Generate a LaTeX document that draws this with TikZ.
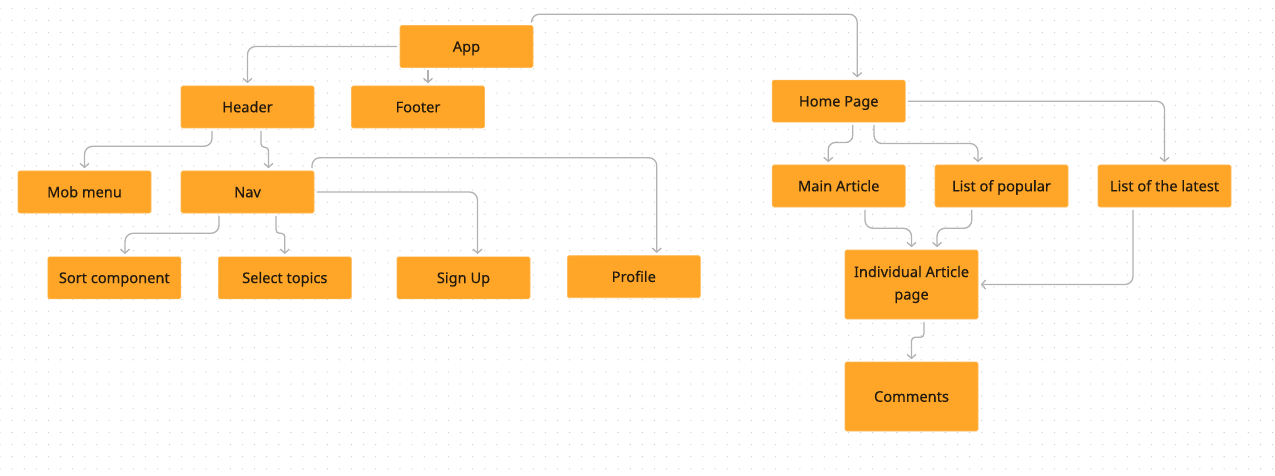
\documentclass[tikz,border=0pt]{standalone}
\usepackage{fontspec}
\setmainfont{Noto Sans}
\newfontfamily\boxfont{Noto Sans}[FakeBold=0.3]
\usetikzlibrary{arrows.meta}
\definecolor{boxfill}{HTML}{FFA629}
\definecolor{boxedge}{HTML}{FFBA55}
\definecolor{lineclr}{HTML}{B2B2B2}
\definecolor{txt}{HTML}{231A0E}
\definecolor{dotclr}{HTML}{CFCFCF}
\tikzset{
  boxbase/.style={fill=boxfill, draw=boxedge, line width=0.6pt, rounded corners=1.5pt,
    minimum width=133pt, minimum height=42pt, inner sep=0pt, text=txt,
    font=\boxfont\fontsize{14.6}{22.5}\selectfont, align=center},
  box/.style={boxbase, text height=10.5pt, text depth=0pt},
  tallbox/.style={boxbase, minimum height=69pt},
  conn/.style={draw=lineclr, line width=1.3pt, rounded corners=8pt,
    shorten <=2.5pt, shorten >=2.5pt, -{Straight Barb[length=4pt,width=9pt]}},
  jog/.style={rounded corners=3.5pt},
  jogb/.style={rounded corners=7pt}
}
\begin{document}
\begin{tikzpicture}[x=1pt,y=-1pt]
\useasboundingbox (0,0) rectangle (1275,476);
\fill[white] (0,0) rectangle (1275,476);
\foreach \i in {0,...,105}{
  \foreach \j in {0,...,38}{
    \fill[dotclr] ({12.12*\i},{8.3+12.12*\j}) circle (0.65pt);
  }
}
% nodes
\node[box] (app) at (466.5,46.5) {App};
\node[box] (header) at (247.5,107) {Header};
\node[box] (footer) at (418,107) {Footer};
\node[box] (mob) at (84.5,192) {Mob menu};
\node[box] (nav) at (247.5,192) {Nav};
\node[box] (sort) at (114.3,277.8) {Sort component};
\node[box] (select) at (284.8,277.8) {Select topics};
\node[box] (signup) at (463.5,277.8) {Sign Up};
\node[box] (profile) at (633.8,276.7) {Profile};
\node[box] (home) at (838.7,101.2) {Home Page};
\node[box] (main) at (838.7,186) {Main Article};
\node[box] (popular) at (1001.5,186) {List of popular};
\node[box] (latest) at (1164.5,186) {List of the latest};
\node[tallbox] (individual) at (911.5,284.5) {Individual Article\\page};
\node[tallbox, text height=10.5pt, text depth=0pt] (comments) at (911.5,396.5) {Comments};
% connectors
\draw[conn] (app.west) -| (header.north);
\draw[conn] ([xshift=-38.5pt]app.south) -- ([xshift=10pt]footer.north);
\draw[conn] ([xshift=65pt]app.north) -- ++(0,-11) -| ([xshift=18.5pt]home.north);
\draw[conn] ([xshift=-35.5pt]header.south) -- ++(0,18) -| (mob.north);
\draw[conn,jog] ([xshift=13.5pt]header.south) -- ++(0,19) -| ([xshift=21pt]nav.north);
\draw[conn] ([xshift=64.5pt]nav.north) -- ++(0,-13) -| ([xshift=23pt]profile.north);
\draw[conn] (nav.east) -| ([xshift=14pt]signup.north);
\draw[conn] ([xshift=-28.5pt]nav.south) -- ++(0,20) -| ([xshift=10.7pt]sort.north);
\draw[conn,jog] ([xshift=28.5pt]nav.south) -- ++(0,20) -| (select.north);
\draw[conn] (home.east) -| (latest.north);
\draw[conn,jogb] ([xshift=14pt]home.south) -- ++(0,20) -| ([xshift=-10.4pt]main.north);
\draw[conn] ([xshift=35.3pt]home.south) -- ++(0,21) -| ([xshift=-23.5pt]popular.north);
\draw[conn] ([xshift=26.3pt]main.south) -- ++(0,21) -| (individual.north);
\draw[conn] ([xshift=-29.8pt]popular.south) -- ++(0,21) -| ([xshift=25.5pt]individual.north);
\draw[conn] ([xshift=-31.5pt]latest.south) |- (individual.east);
\draw[conn,jog] ([xshift=12.5pt]individual.south) -- ++(0,18) -| (comments.north);
\end{tikzpicture}
\end{document}
